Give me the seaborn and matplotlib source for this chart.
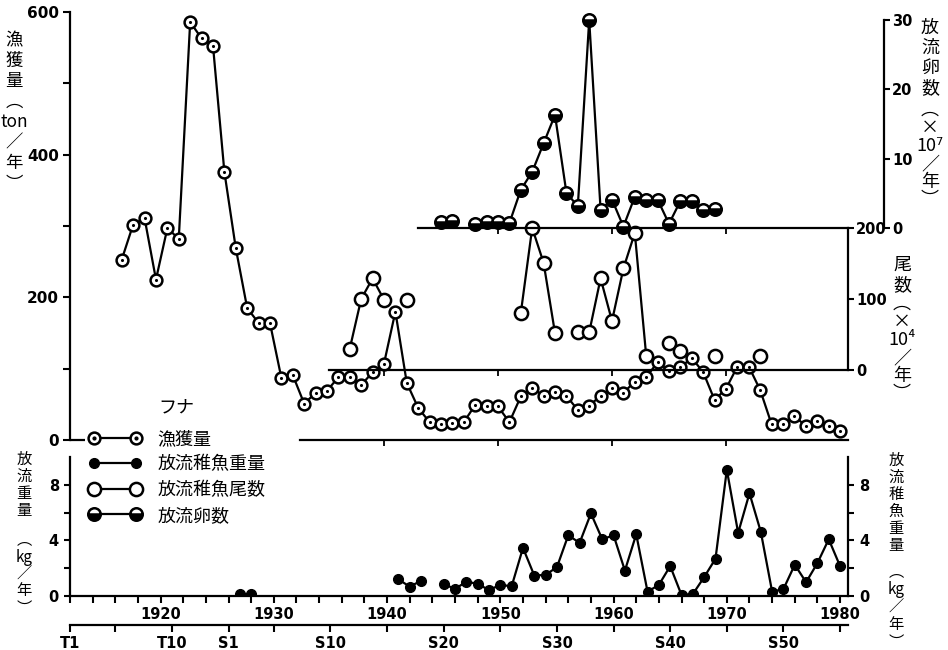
import numpy as np
import pandas as pd
import matplotlib
matplotlib.use("Agg")
import matplotlib.pyplot as plt
import seaborn as sns
from matplotlib.lines import Line2D
from matplotlib.legend_handler import HandlerTuple

sns.set_theme(style="ticks", rc={
    "axes.edgecolor": "black", "xtick.color": "black", "ytick.color": "black",
    "text.color": "black", "axes.labelcolor": "black",
})
plt.rcParams["font.family"] = ["DejaVu Sans"]
CJK = ["Noto Sans CJK JP", "DejaVu Sans"]

# ---- フナ: 漁獲量 (ton/年) ----
catch_years = list(range(1917, 1981))
catch_ton = [253, 302, 311, 225, 297, 282, 586, 563, 553, 376,
             269, 185, 164, 164, 87, 91, 51, 66, 69, 88,
             88, 77, 95, 107, 180, 80, 45, 25, 23, 24,
             25, 49, 48, 47, 25, 61, 73, 62, 67, 62,
             42, 48, 62, 73, 66, 82, 88, 109, 97, 102,
             115, 95, 56, 72, 103, 103, 70, 22, 23, 33,
             20, 26, 19, 12]

# ---- 放流稚魚尾数 (×10^4/年) ----
count_years = [1937, 1938, 1939, 1940, 1942, 1952, 1953, 1954, 1955, 1957,
               1958, 1959, 1960, 1961, 1962, 1963, 1965, 1966, 1969, 1973]
count_1e4 = [30, 100, 129, 99, 99, 80, 200, 151, 52, 53,
             53, 129, 69, 143, 193, 20, 38, 27, 20, 20]

# ---- 放流卵数 (×10^7/年) ----
egg_years = [1945, 1946, 1948, 1949, 1950, 1951, 1952, 1953, 1954, 1955,
             1956, 1957, 1958, 1959, 1960, 1961, 1962, 1963, 1964, 1965,
             1966, 1967, 1968, 1969]
egg_1e7 = [0.8, 1.05, 0.6, 0.8, 0.8, 0.7, 5.5, 8.1, 12.2, 16.3,
           5.1, 3.1, 30.0, 2.6, 4.1, 0.2, 4.5, 4.0, 4.1, 0.6,
           3.9, 3.9, 2.6, 2.8]

# ---- 放流稚魚重量 (kg/年) ----
weight_years = [1927, 1928, 1941, 1942, 1943] + list(range(1945, 1981))
weight_kg = [0.15, 0.15, 1.2, 0.67, 1.1,
             0.87, 0.5, 1.04, 0.87, 0.43, 0.8, 0.7, 3.46, 1.47, 1.52,
             2.08, 4.37, 3.82, 5.94, 4.08, 4.37, 1.83, 4.44, 0.31, 0.8,
             2.15, 0.07, 0.14, 1.36, 2.68, 9.08, 4.54, 7.39, 4.62, 0.31,
             0.5, 2.25, 0.99, 2.37, 4.08, 2.15]

year_ticks = list(range(1912, 1981, 2))
year_labels = [str(y) if y % 10 == 0 else "" for y in year_ticks]
era_ticks = [1912, 1916, 1921, 1926, 1930, 1935, 1940, 1945, 1950,
             1955, 1960, 1965, 1970, 1975, 1980]
era_labels = ["T1", "", "T10", "S1", "", "S10", "", "S20", "",
              "S30", "", "S40", "", "S50", ""]

W, H = 948, 650
fig = plt.figure(figsize=(W / 100, H / 100), dpi=100)
fig.patch.set_facecolor("white")
XLIM = (1912.46, 1980.7)
LW = 1.6


def box(left, top, right, bottom):
    return [left / W, 1 - bottom / H, (right - left) / W, (bottom - top) / H]


def frame(rect):
    a = fig.add_axes(rect)
    a.patch.set_visible(False)
    a.set_xlim(*XLIM)
    for s in a.spines.values():
        s.set_visible(False)
        s.set_linewidth(LW)
    a.tick_params(left=False, bottom=False, right=False, top=False,
                  labelleft=False, labelbottom=False)
    return a


def runs(years):
    y = np.asarray(years)
    return np.concatenate([[0], np.cumsum(np.diff(y) > 1)])


def series(ax, years, vals, **mk):
    df = pd.DataFrame({"year": years, "value": vals, "run": runs(years)})
    sns.lineplot(data=df, x="year", y="value", units="run", estimator=None,
                 ax=ax, color="black", lw=LW, legend=False, sort=True, **mk)
    ax.set_xlabel("")
    ax.set_ylabel("")


def bold_labels(ax):
    for t in ax.get_xticklabels() + ax.get_yticklabels():
        t.set_fontweight("bold")
        t.set_family("DejaVu Sans")


# ---------- upper panel: 漁獲量 ----------
ax = frame(box(70, 12, 848, 440))
series(ax, catch_years, catch_ton, marker="o", ms=8.5, mfc="white",
       mec="black", mew=1.8)
sns.scatterplot(x=catch_years, y=catch_ton, s=5, color="black",
                linewidth=0, zorder=4, ax=ax, legend=False)
ax.set_xlim(*XLIM)
ax.set_ylim(0, 600)
ax.spines["left"].set_visible(True)
ax.spines["left"].set_bounds(0, 600)
ax.set_yticks(range(0, 601, 100))
ax.set_yticklabels(["0", "", "200", "", "400", "", "600"])
ax.tick_params(axis="y", left=True, labelleft=True, direction="out",
               length=5, width=1.5, pad=3, labelsize=11)
ax.spines["bottom"].set_visible(True)
ax.spines["bottom"].set_bounds(1932.6, XLIM[1])
ax.set_xticks([1940, 1950, 1960, 1970])
ax.tick_params(axis="x", bottom=True, labelbottom=False, direction="out",
               length=4, width=1.3)
ax.hlines(0, XLIM[0], 1913.8, color="black", lw=LW, clip_on=False)
bold_labels(ax)

# ---------- 放流稚魚尾数 ----------
axc = frame(box(70, 12, 848, 440))
series(axc, count_years, count_1e4, marker="o", ms=9.5, mfc="white",
       mec="black", mew=1.8)
axc.set_xlim(*XLIM)
axc.set_ylim(-98.6, 504.2)
axc.spines["right"].set_visible(True)
axc.spines["right"].set_bounds(0, 200)
axc.yaxis.set_ticks_position("right")
axc.set_yticks([0, 100, 200])
axc.set_yticklabels(["0", "100", "200"])
axc.tick_params(axis="y", right=True, labelright=True, left=False,
                labelleft=False, direction="out", length=4, width=1.5,
                pad=2, labelsize=10.5)
axc.spines["bottom"].set_visible(True)
axc.spines["bottom"].set_position(("data", 0))
axc.spines["bottom"].set_bounds(1935.2, XLIM[1])
axc.set_xticks([1940, 1950, 1960, 1970])
axc.tick_params(axis="x", bottom=True, labelbottom=False, direction="out",
                length=4, width=1.3)
bold_labels(axc)

# ---------- 放流卵数 ----------
axe = frame(box(70, 12, 848, 440))
series(axe, egg_years, egg_1e7, marker="o", ms=9, mfc="black",
       markerfacecoloralt="white", fillstyle="bottom", mec="black", mew=1.8)
axe.set_xlim(*XLIM)
axe.set_ylim(-30.58, 31.15)
axe.spines["right"].set_visible(True)
axe.spines["right"].set_position(("axes", (884 - 70) / 778))
axe.spines["right"].set_bounds(0, 30)
axe.yaxis.set_ticks_position("right")
axe.set_yticks([0, 10, 20, 30])
axe.set_yticklabels(["0", "10", "20", "30"])
axe.tick_params(axis="y", right=True, labelright=True, left=False,
                labelleft=False, direction="out", length=4, width=1.5,
                pad=2, labelsize=10.5)
axe.spines["bottom"].set_visible(True)
axe.spines["bottom"].set_position(("data", 0))
axe.spines["bottom"].set_bounds(1943.0, XLIM[1])
axe.set_xticks([1950, 1960, 1970])
axe.tick_params(axis="x", bottom=True, labelbottom=False, direction="out",
                length=4, width=1.3)
bold_labels(axe)

# ---------- lower panel: 放流稚魚重量 ----------
axb = frame(box(70, 457, 848, 596))
series(axb, weight_years, weight_kg, marker="o", ms=7, mfc="black",
       mec="black", mew=1)
axb.set_xlim(*XLIM)
axb.set_ylim(0, 10)
for side in ("left", "right"):
    axb.spines[side].set_visible(True)
    axb.spines[side].set_bounds(0, 10)
axb.spines["bottom"].set_visible(True)
axb.set_yticks([0, 2, 4, 6, 8])
axb.set_yticklabels(["0", "", "4", "", "8"])
axb.tick_params(axis="y", left=True, right=True, labelleft=True,
                labelright=True, direction="out", length=4, width=1.5,
                pad=4, labelsize=10.5)
axb.set_xticks(year_ticks)
axb.set_xticklabels(year_labels)
axb.tick_params(axis="x", bottom=True, labelbottom=True, direction="out",
                length=5, width=1.5, pad=3, labelsize=10.5)
bold_labels(axb)

era = axb.secondary_xaxis(-0.21)
era.set_xticks(era_ticks)
era.set_xticklabels(era_labels)
era.spines["bottom"].set_linewidth(LW)
era.tick_params(axis="x", direction="out", length=5, width=1.5, pad=3,
                labelsize=10.5)
for t in era.get_xticklabels():
    t.set_fontweight("bold")

# ---------- legend ----------
h_catch = (Line2D([], [], color="black", lw=LW, marker="o", ms=8.5,
                  mfc="white", mec="black", mew=1.8),
           Line2D([], [], ls="none", marker="o", ms=2, color="black"))
h_weight = Line2D([], [], color="black", lw=LW, marker="o", ms=7,
                  mfc="black", mec="black")
h_count = Line2D([], [], color="black", lw=LW, marker="o", ms=9.5,
                 mfc="white", mec="black", mew=1.8)
h_egg = Line2D([], [], color="black", lw=LW, marker="o", ms=9,
               mfc="black", markerfacecoloralt="white", fillstyle="bottom",
               mec="black", mew=1.8)
fig.legend([h_catch, h_weight, h_count, h_egg],
           ["漁獲量", "放流稚魚重量", "放流稚魚尾数", "放流卵数"],
           loc="upper left", bbox_to_anchor=(89 / W, 1 - 430 / H),
           frameon=False, prop={"family": CJK, "size": 13},
           handlelength=2.9, handletextpad=0.9, labelspacing=0.42,
           borderpad=0, borderaxespad=0, numpoints=2,
           handler_map={tuple: HandlerTuple(ndivide=1)})
fig.text(158 / W, 1 - 407 / H, "フナ", ha="left", va="center",
         fontsize=13, family=CJK)


# ---------- vertical axis titles (one glyph per line) ----------
def vtext(x, y, glyphs, size, spacing):
    fig.text(x / W, 1 - y / H, "\n".join(glyphs), ha="center", va="center",
             fontsize=size, family=CJK, linespacing=spacing,
             multialignment="center")


vtext(14, 112, ["漁", "獲", "量", "︵", "ton", "／", "年", "︶"], 12.5, 1.18)
vtext(930, 58, ["放", "流", "卵", "数"], 13, 1.15)
vtext(930, 155, ["︵", "×", "10⁷", "／", "年", "︶"], 13, 1.0)
vtext(902, 275, ["尾", "数"], 13, 1.15)
vtext(902, 349, ["︵", "×", "10⁴", "／", "年", "︶"], 13, 1.0)
vtext(896, 503, ["放", "流", "稚", "魚", "重", "量"], 11, 1.0)
vtext(896, 607, ["︵", "kg", "／", "年", "︶"], 11, 1.05)
vtext(24, 485, ["放", "流", "重", "量"], 11, 1.0)
vtext(24, 574, ["︵", "kg", "／", "年", "︶"], 11, 1.0)

fig.savefig("out.png", dpi=100, facecolor="white")
